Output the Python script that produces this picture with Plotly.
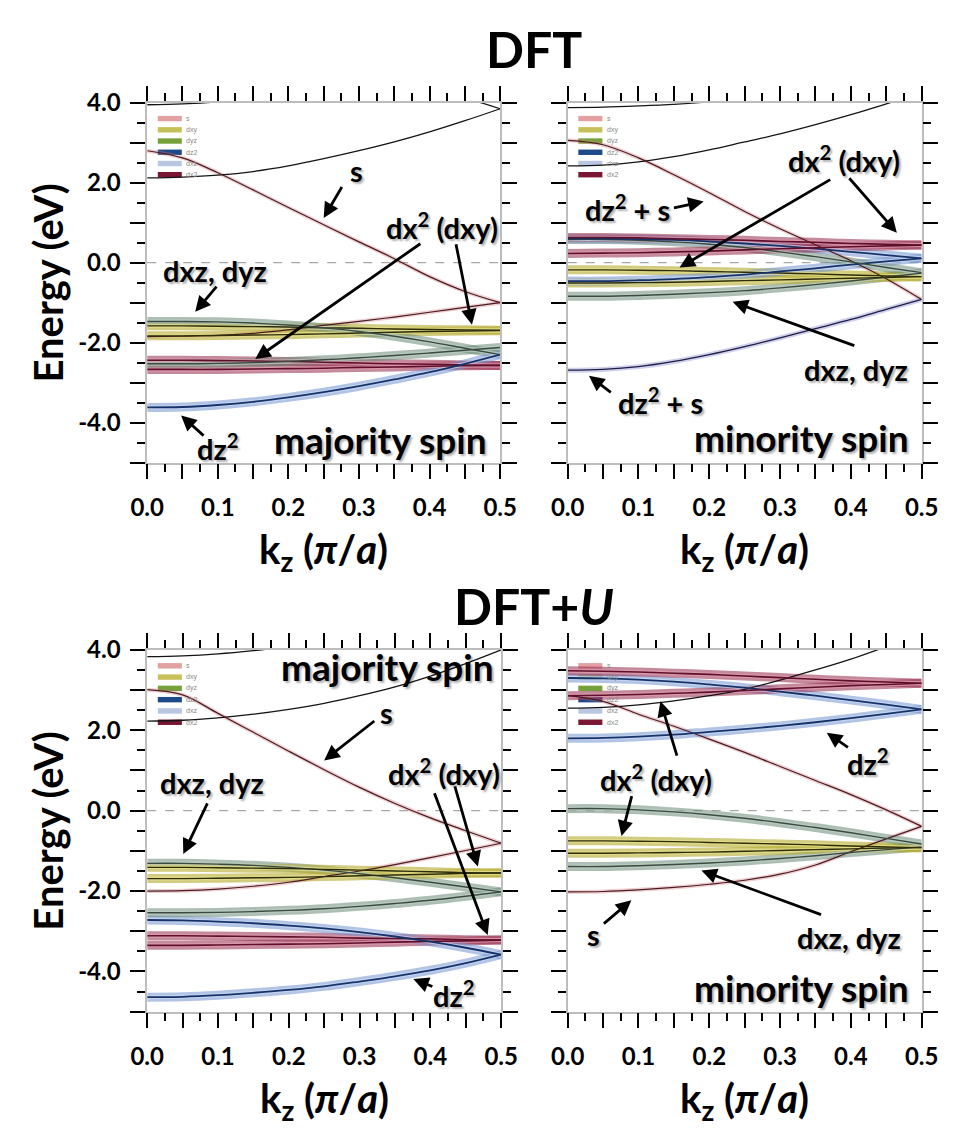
import plotly.graph_objects as go

# ---------------------------------------------------------------------------
# k-path sampling (units of pi/a)
K = [0.0, 0.05, 0.1, 0.15, 0.2, 0.25, 0.3, 0.35, 0.4, 0.45, 0.5]

X_TICKS = [0.0, 0.05, 0.1, 0.15, 0.2, 0.25, 0.3, 0.35, 0.4, 0.45, 0.5]
X_LABELS = ["0.0", "", "0.1", "", "0.2", "", "0.3", "", "0.4", "", "0.5"]
X_MINOR = [0.025, 0.075, 0.125, 0.175, 0.225, 0.275, 0.325, 0.375, 0.425, 0.475]
Y_TICKS = [-5, -4, -3, -2, -1, 0, 1, 2, 3, 4]
Y_LABELS = ["", "-4.0", "", "-2.0", "", "0.0", "", "2.0", "", "4.0"]
Y_MINOR = [-4.5, -3.5, -2.5, -1.5, -0.5, 0.5, 1.5, 2.5, 3.5]

ORBITALS = ["s", "dxy", "dyz", "dz2", "dxz", "dx2"]
ORBITAL_COLORS = ["#e3a0a0", "#c6c05a", "#76a13a", "#1f4a8a", "#b9c6e2", "#7a1532"]

# ---------------------------------------------------------------------------
# DFT, majority spin (eV)
dft_maj_top1 = [3.95, 3.97, 4.02, 4.10, 4.20, None, None, None, None, None, None]
dft_maj_top2 = [None, None, None, None, None, None, None, None, 4.35, 4.12, 3.85]
dft_maj_up = [2.12, 2.14, 2.19, 2.28, 2.42, 2.60, 2.80, 3.02, 3.27, 3.55, 3.85]
dft_maj_s = [2.80, 2.62, 2.25, 1.82, 1.38, 0.95, 0.52, 0.10, -0.35, -0.72, -1.00]
dft_maj_s2 = [-1.85, -1.84, -1.82, -1.77, -1.68, -1.57, -1.47, -1.36, -1.24, -1.12, -1.00]
dft_maj_dxz1 = [-1.47, -1.47, -1.48, -1.51, -1.56, -1.63, -1.72, -1.84, -1.98, -2.14, -2.30]
dft_maj_dxz2 = [-2.53, -2.53, -2.52, -2.50, -2.47, -2.43, -2.38, -2.32, -2.26, -2.19, -2.12]
dft_maj_dxy1 = [-1.58, -1.58, -1.59, -1.60, -1.61, -1.63, -1.64, -1.66, -1.67, -1.68, -1.69]
dft_maj_dxy2 = [-1.83, -1.83, -1.82, -1.81, -1.80, -1.78, -1.76, -1.74, -1.72, -1.71, -1.70]
dft_maj_dx2a = [-2.44, -2.44, -2.45, -2.46, -2.47, -2.49, -2.51, -2.53, -2.54, -2.56, -2.57]
dft_maj_dx2b = [-2.67, -2.67, -2.67, -2.66, -2.65, -2.64, -2.62, -2.61, -2.59, -2.58, -2.57]
dft_maj_dz2 = [-3.62, -3.61, -3.56, -3.48, -3.37, -3.24, -3.09, -2.92, -2.74, -2.53, -2.30]

# DFT, minority spin (eV)
dft_min_top = [3.88, 3.89, 3.92, 3.96, 4.02, 4.10, None, None, None, None, None]
dft_min_up = [2.42, 2.44, 2.52, 2.65, 2.82, 3.02, 3.22, 3.45, 3.70, 3.97, 4.25]
dft_min_s = [3.06, 2.95, 2.62, 2.20, 1.75, 1.28, 0.85, 0.45, 0.05, -0.40, -0.92]
dft_min_low = [-2.69, -2.67, -2.60, -2.47, -2.30, -2.10, -1.88, -1.65, -1.42, -1.17, -0.92]
dft_min_dx2a = [0.63, 0.63, 0.62, 0.60, 0.58, 0.56, 0.53, 0.51, 0.48, 0.46, 0.44]
dft_min_dx2b = [0.23, 0.24, 0.25, 0.27, 0.29, 0.32, 0.35, 0.37, 0.40, 0.42, 0.44]
dft_min_dxz1 = [0.58, 0.58, 0.56, 0.52, 0.46, 0.38, 0.27, 0.15, 0.02, -0.12, -0.25]
dft_min_dz2a = [0.60, 0.60, 0.59, 0.57, 0.53, 0.48, 0.42, 0.35, 0.27, 0.19, 0.11]
dft_min_dxy1 = [-0.18, -0.18, -0.19, -0.20, -0.22, -0.24, -0.26, -0.28, -0.31, -0.33, -0.35]
dft_min_dxy2 = [-0.51, -0.51, -0.50, -0.49, -0.47, -0.45, -0.43, -0.41, -0.39, -0.37, -0.35]
dft_min_dz2b = [-0.46, -0.46, -0.44, -0.41, -0.36, -0.30, -0.22, -0.14, -0.05, 0.03, 0.11]
dft_min_dxz2 = [-0.84, -0.84, -0.82, -0.79, -0.75, -0.70, -0.63, -0.55, -0.46, -0.36, -0.26]

# DFT+U, majority spin (eV)
dftu_maj_top = [3.83, 3.85, 3.90, 3.98, 4.08, None, None, None, None, None, None]
dftu_maj_up = [2.23, 2.25, 2.31, 2.40, 2.52, 2.67, 2.86, 3.08, 3.35, 3.66, 4.00]
dftu_maj_s = [3.01, 2.88, 2.42, 1.95, 1.48, 1.02, 0.58, 0.18, -0.18, -0.50, -0.81]
dftu_maj_s2 = [-2.00, -1.99, -1.95, -1.88, -1.78, -1.64, -1.50, -1.34, -1.17, -0.99, -0.81]
dftu_maj_dxy1 = [-1.41, -1.41, -1.42, -1.43, -1.44, -1.46, -1.48, -1.50, -1.52, -1.54, -1.55]
dftu_maj_dxy2 = [-1.69, -1.69, -1.68, -1.67, -1.66, -1.64, -1.62, -1.60, -1.58, -1.56, -1.55]
dftu_maj_dxz1 = [-1.31, -1.31, -1.33, -1.36, -1.41, -1.48, -1.57, -1.67, -1.78, -1.90, -2.02]
dftu_maj_dxz2 = [-2.54, -2.54, -2.53, -2.51, -2.48, -2.44, -2.38, -2.31, -2.23, -2.13, -2.02]
dftu_maj_dz2a = [-2.72, -2.73, -2.76, -2.80, -2.86, -2.93, -3.02, -3.13, -3.26, -3.41, -3.58]
dftu_maj_dx2a = [-3.11, -3.11, -3.12, -3.13, -3.14, -3.15, -3.17, -3.18, -3.19, -3.21, -3.22]
dftu_maj_dx2b = [-3.35, -3.35, -3.34, -3.33, -3.32, -3.31, -3.29, -3.27, -3.25, -3.24, -3.22]
dftu_maj_dz2b = [-4.64, -4.63, -4.59, -4.53, -4.46, -4.37, -4.25, -4.12, -3.97, -3.79, -3.58]

# DFT+U, minority spin (eV)
dftu_min_up = [2.55, 2.57, 2.63, 2.73, 2.86, 3.02, 3.25, 3.50, 3.77, 4.08, None]
dftu_min_s = [2.86, 2.72, 2.40, 2.10, 1.78, 1.45, 1.10, 0.75, 0.40, 0.02, -0.39]
dftu_min_dx2a = [3.48, 3.47, 3.45, 3.42, 3.39, 3.35, 3.31, 3.27, 3.23, 3.20, 3.17]
dftu_min_dx2b = [2.86, 2.87, 2.89, 2.92, 2.95, 2.99, 3.03, 3.07, 3.11, 3.14, 3.17]
dftu_min_dz2a = [3.30, 3.29, 3.26, 3.21, 3.14, 3.06, 2.96, 2.86, 2.75, 2.64, 2.52]
dftu_min_dz2b = [1.80, 1.81, 1.84, 1.89, 1.96, 2.03, 2.11, 2.20, 2.30, 2.41, 2.52]
dftu_min_dxz1 = [0.05, 0.05, 0.02, -0.03, -0.10, -0.19, -0.30, -0.42, -0.55, -0.69, -0.83]
dftu_min_dxy1 = [-0.75, -0.75, -0.76, -0.77, -0.79, -0.81, -0.83, -0.85, -0.88, -0.90, -0.92]
dftu_min_dxy2 = [-1.06, -1.06, -1.05, -1.04, -1.03, -1.01, -0.99, -0.97, -0.95, -0.93, -0.92]
dftu_min_dxz2 = [-1.39, -1.39, -1.37, -1.34, -1.30, -1.25, -1.19, -1.12, -1.04, -0.97, -0.90]
dftu_min_s2 = [-2.02, -2.01, -1.97, -1.91, -1.83, -1.73, -1.58, -1.35, -1.02, -0.70, -0.39]

# band -> (panel, character)
BANDS = [
    (1, "black", dft_maj_top1), (1, "black", dft_maj_top2), (1, "black", dft_maj_up),
    (1, "s", dft_maj_s), (1, "s", dft_maj_s2),
    (1, "dx2", dft_maj_dx2a), (1, "dx2", dft_maj_dx2b),
    (1, "dxz", dft_maj_dxz2), (1, "dxy", dft_maj_dxy2), (1, "dxy", dft_maj_dxy1),
    (1, "dxz", dft_maj_dxz1), (1, "dz2", dft_maj_dz2),

    (2, "black", dft_min_top), (2, "black", dft_min_up), (2, "s", dft_min_s),
    (2, "lav", dft_min_low),
    (2, "dxz", dft_min_dxz2), (2, "dxy", dft_min_dxy2), (2, "dxy", dft_min_dxy1),
    (2, "dz2", dft_min_dz2b), (2, "dxz", dft_min_dxz1), (2, "dz2", dft_min_dz2a),
    (2, "dx2", dft_min_dx2b), (2, "dx2", dft_min_dx2a),

    (3, "black", dftu_maj_top), (3, "black", dftu_maj_up),
    (3, "s", dftu_maj_s), (3, "s", dftu_maj_s2),
    (3, "dz2", dftu_maj_dz2b), (3, "dx2", dftu_maj_dx2b), (3, "dx2", dftu_maj_dx2a),
    (3, "dz2", dftu_maj_dz2a), (3, "dxz", dftu_maj_dxz2), (3, "dxz", dftu_maj_dxz1),
    (3, "dxy", dftu_maj_dxy2), (3, "dxy", dftu_maj_dxy1),

    (4, "black", dftu_min_up), (4, "s", dftu_min_s), (4, "s", dftu_min_s2),
    (4, "dxz", dftu_min_dxz2), (4, "dxy", dftu_min_dxy2), (4, "dxy", dftu_min_dxy1),
    (4, "dxz", dftu_min_dxz1),
    (4, "dz2", dftu_min_dz2b), (4, "dz2", dftu_min_dz2a),
    (4, "dx2", dftu_min_dx2b), (4, "dx2", dftu_min_dx2a),
]

# line styles per orbital character: (outer halo, inner halo, core colour, core width)
STYLE = {
    "black": (None, None, "#141414", 1.3),
    "s": (("rgba(210,120,125,0.35)", 4), None, "#4a1c22", 1.2),
    "lav": (("rgba(150,150,215,0.45)", 5), None, "#1c1c45", 1.3),
    "dxy": (("rgba(180,170,45,0.6)", 9), ("rgba(228,222,140,0.7)", 4), "#2e2d0a", 1.4),
    "dx2": (("rgba(150,40,75,0.55)", 9), ("rgba(226,160,178,0.65)", 4), "#5f0f2c", 1.6),
    "dz2": (("rgba(115,148,210,0.55)", 9), ("rgba(205,218,242,0.65)", 4), "#163369", 1.8),
    "dxz": (("rgba(105,138,120,0.55)", 9), ("rgba(190,208,198,0.65)", 4), "#3a4a40", 1.4),
}

# panel frames in page pixels: (left, right, top, bottom)
W, H = 956, 1128
FRAMES = {1: (135, 501, 88, 453), 2: (571, 938, 88, 453),
          3: (135, 502, 643, 1010), 4: (571, 938, 643, 1010)}

FONT = "Lato, 'Open Sans', sans-serif"

fig = go.Figure()


def axis_ids(p):
    return ("x" if p == 1 else f"x{p}", "y" if p == 1 else f"y{p}")


# fat-band halos first, then the band lines on top
for layer in ("outer", "inner", "core"):
    for panel, kind, vals in BANDS:
        outer, inner, core, cw = STYLE[kind]
        xa, ya = axis_ids(panel)
        if layer == "outer" and outer:
            color, width = outer
        elif layer == "inner" and inner:
            color, width = inner
        elif layer == "core":
            color, width = core, cw
        else:
            continue
        fig.add_trace(go.Scatter(
            x=K, y=vals, mode="lines", xaxis=xa, yaxis=ya,
            line=dict(color=color, width=width, shape="spline", smoothing=1.0),
            hoverinfo="skip", showlegend=False))

layout = dict(
    width=W, height=H, paper_bgcolor="white", plot_bgcolor="white",
    margin=dict(l=0, r=0, t=0, b=0), showlegend=False,
)

tickfont = dict(family=FONT, size=24, color="black", weight="bold")
for p, (l, r, t, b) in FRAMES.items():
    xa, ya = axis_ids(p)
    xkey = "xaxis" if p == 1 else f"xaxis{p}"
    ykey = "yaxis" if p == 1 else f"yaxis{p}"
    layout[xkey] = dict(
        domain=[l / W, r / W], range=[0, 0.5], anchor=ya,
        tickmode="array", tickvals=X_TICKS, ticktext=X_LABELS,
        ticks="outside", ticklen=15, tickwidth=2, tickcolor="black",
        ticklabelstandoff=8,
        minor=dict(tickvals=X_MINOR, ticks="outside", ticklen=8, tickwidth=1.5, tickcolor="black"),
        showline=True, linecolor="#bdbdbd", linewidth=1.5, mirror="allticks",
        showgrid=False, zeroline=False, tickfont=tickfont, fixedrange=True)
    layout[ykey] = dict(
        domain=[1 - b / H, 1 - t / H], range=[-5, 4], anchor=xa,
        tickmode="array", tickvals=Y_TICKS, ticktext=Y_LABELS,
        ticks="outside", ticklen=15, tickwidth=2, tickcolor="black",
        ticklabelstandoff=5,
        showticklabels=p in (1, 3),
        minor=dict(tickvals=Y_MINOR, ticks="outside", ticklen=8, tickwidth=1.5, tickcolor="black"),
        showline=True, linecolor="#bdbdbd", linewidth=1.5, mirror="allticks",
        showgrid=False, zeroline=False, tickfont=tickfont, fixedrange=True)

fig.update_layout(**layout)

shapes = []
annotations = []

# Fermi level and per-panel orbital key
for p in FRAMES:
    xa, ya = axis_ids(p)
    shapes.append(dict(type="line", xref=f"{xa} domain", yref=ya, x0=0, x1=1, y0=0, y1=0,
                       line=dict(color="#a8a8a8", width=1.3, dash="dash"), layer="below"))
    for i, (name, col) in enumerate(zip(ORBITALS, ORBITAL_COLORS)):
        yc = 0.956 - i * 0.0312
        shapes.append(dict(type="rect", xref=f"{xa} domain", yref=f"{ya} domain",
                           x0=0.030, x1=0.098, y0=yc - 0.0075, y1=yc + 0.0075,
                           fillcolor=col, line=dict(width=0), layer="below"))
        annotations.append(dict(xref=f"{xa} domain", yref=f"{ya} domain", x=0.104, y=yc,
                                text=name, showarrow=False, xanchor="left", yanchor="middle",
                                font=dict(family="Arial", size=7, color="#888888")))

SHADOW = "2px 2px 2px rgba(0,0,0,0.30)"


def label(p, x, y, text, size=29):
    xa, ya = axis_ids(p)
    annotations.append(dict(xref=xa, yref=ya, x=x, y=y, text=text, showarrow=False,
                            xanchor="center", yanchor="middle",
                            font=dict(family=FONT, size=size, color="black", weight="bold",
                                      shadow=SHADOW)))


def arrow(p, x0, y0, x1, y1):
    xa, ya = axis_ids(p)
    annotations.append(dict(xref=xa, yref=ya, axref=xa, ayref=ya, x=x1, y=y1, ax=x0, ay=y0,
                            text="", showarrow=True, arrowhead=2, arrowsize=1.1,
                            arrowwidth=2.8, arrowcolor="black", standoff=0, startstandoff=0))


DZ2 = "dz<sup>2</sup>"
DX2 = "dx<sup>2</sup> (dxy)"
SPIN = 37

# DFT majority
label(1, 0.296, 2.30, "s")
arrow(1, 0.277, 1.93, 0.250, 1.12)
label(1, 0.417, 0.92, DX2)
arrow(1, 0.389, 0.50, 0.153, -2.41)
arrow(1, 0.437, 0.50, 0.460, -1.55)
label(1, 0.096, -0.19, "dxz, dyz")
arrow(1, 0.100, -0.56, 0.068, -1.23)
label(1, 0.100, -4.60, DZ2)
arrow(1, 0.082, -4.36, 0.048, -3.82)
label(1, 0.330, -4.43, "majority spin", SPIN)

# DFT minority
label(2, 0.390, 2.60, DX2)
arrow(2, 0.373, 2.10, 0.158, -0.12)
arrow(2, 0.396, 2.15, 0.465, 0.75)
label(2, 0.085, 1.36, DZ2 + " + s")
arrow(2, 0.148, 1.36, 0.192, 1.53)
label(2, 0.407, -2.66, "dxz, dyz")
arrow(2, 0.407, -2.09, 0.233, -0.98)
label(2, 0.131, -3.45, DZ2 + " + s")
arrow(2, 0.063, -3.27, 0.030, -2.83)
label(2, 0.330, -4.38, "minority spin", SPIN)

# DFT+U majority
label(3, 0.340, 3.58, "majority spin", SPIN)
label(3, 0.338, 2.43, "s")
arrow(3, 0.323, 2.26, 0.250, 1.25)
label(3, 0.419, 0.96, DX2)
arrow(3, 0.405, 0.47, 0.481, -3.09)
arrow(3, 0.434, 0.64, 0.467, -1.39)
label(3, 0.092, 0.69, "dxz, dyz")
arrow(3, 0.086, 0.22, 0.051, -1.08)
label(3, 0.434, -4.56, DZ2)
arrow(3, 0.405, -4.39, 0.376, -4.19)

# DFT+U minority
label(4, 0.125, 0.81, DX2)
arrow(4, 0.155, 1.33, 0.131, 2.72)
arrow(4, 0.091, 0.40, 0.076, -0.63)
label(4, 0.424, 1.20, DZ2)
arrow(4, 0.398, 1.55, 0.366, 1.94)
label(4, 0.037, -3.09, "s")
arrow(4, 0.049, -2.84, 0.090, -2.23)
label(4, 0.398, -3.16, "dxz, dyz")
arrow(4, 0.360, -2.60, 0.189, -1.49)
label(4, 0.330, -4.39, "minority spin", SPIN)

# figure titles and axis titles
big = dict(family=FONT, size=50, color="black", weight="bold")
center = dict(xref="paper", yref="paper", showarrow=False, xanchor="center", yanchor="middle")
annotations.append(dict(center, x=536.5 / W, y=1 - 33 / H, text="DFT", font=big))
annotations.append(dict(center, x=536.5 / W, y=1 - 598 / H, text="DFT+<i>U</i>", font=big))
ttl = dict(family=FONT, size=40, color="black", weight="bold")
for yc in ((88 + 453) / 2, (643 + 1010) / 2):
    annotations.append(dict(center, x=32 / W, y=1 - yc / H, text="Energy (eV)",
                            textangle=-90, font=ttl))
for (l, r, t, b) in FRAMES.values():
    annotations.append(dict(center, x=(l + r) / 2 / W, y=1 - (b + 90) / H,
                            text="k<sub>z</sub> (<i>π</i>/<i>a</i>)", font=ttl))

fig.update_layout(shapes=shapes, annotations=annotations)
fig.write_html("out.html")
